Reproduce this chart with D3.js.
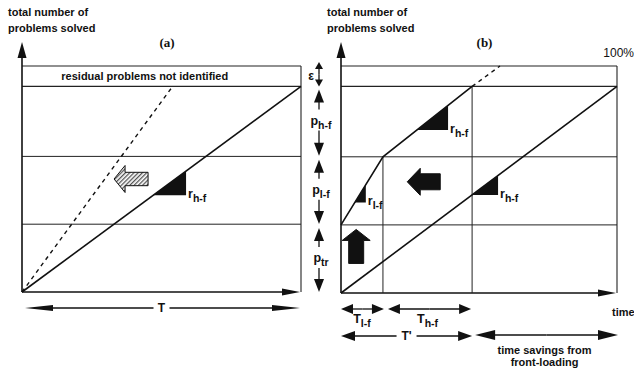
<!DOCTYPE html>
<html>
<head>
<meta charset="utf-8">
<script src="https://cdn.jsdelivr.net/npm/d3@7"></script>
<style>
  body { margin: 0; background: #fff; }
  svg { display: block; }
  text { font-family: "Liberation Sans", Arial, sans-serif; font-weight: bold; fill: #111; }
</style>
</head>
<body>
<script>

// Levels (share of all problems) where the bands end: p_tr, p_l-f, p_h-f.
const bandLevels = [0.30, 0.60, 0.91];
const fullLevel = 1.0;
const bandNames = ['tr', 'l-f', 'h-f'];

// Panel (a): conventional development.
const lineA = [[0, 0], [1, 0.91]];
const dashA = [[0, 0], [0.54, 0.91]];
const triA = [[0.47, 0.588]];

// Panel (b): front-loaded development.
const lineB = [[0, 0], [1, 0.91]];
const frontB = [[0, 0.30], [0.152, 0.60], [0.475, 0.91]];
const dashB = [[0.475, 0.91], [0.576, 1]];
const triFront = [[0.05, 0.09], [0.275, 0.388]];
const triB = [[0.475, 0.569]];
const triFrontNames = ['l-f', 'h-f'];

// Time marks in panel (b): end of T_l-f, end of T'.
const timeMarks = [0.152, 0.475];


const svg = d3.select('body').append('svg')
  .attr('width', 634)
  .attr('height', 368);

const xa = d3.scaleLinear([0, 1], [22, 301]);
const ya = d3.scaleLinear([0, 1], [292, 66]);
const xb = d3.scaleLinear([0, 1], [341, 617]);
const yb = d3.scaleLinear([0, 1], [293, 66]);


/**
 * y on a polyline at x.
 */
function yAt(pts, x) {
  for (let i = 1; i < pts.length; i++) {
    let [x0, y0] = pts[i - 1], [x1, y1] = pts[i];
    if (x <= x1 || i === pts.length - 1) return y0 + (y1 - y0) * (x - x0) / (x1 - x0);
  }
}

/**
 * Filled arrow head, tip at (x, y), pointing along (dx, dy).
 */
function head(g, x, y, dx, dy, len, half) {
  let px = -dy, py = dx;
  let bx = x - dx * len, by = y - dy * len;
  g.append('path')
    .attr('d', `M${x},${y}L${bx + px * half},${by + py * half}L${bx - px * half},${by - py * half}Z`)
    .attr('fill', '#111');
}

/**
 * Single arrow from tail to tip.
 */
function arrow(g, x1, y1, x2, y2, len, half, w) {
  let d = Math.hypot(x2 - x1, y2 - y1), dx = (x2 - x1) / d, dy = (y2 - y1) / d;
  g.append('line')
    .attr('x1', x1).attr('y1', y1)
    .attr('x2', x2 - dx * len * 0.8).attr('y2', y2 - dy * len * 0.8)
    .attr('stroke', '#111').attr('stroke-width', w || 1.3);
  head(g, x2, y2, dx, dy, len, half);
}

/**
 * Double arrow, optionally broken round a label.
 */
function dimension(g, x1, y1, x2, y2, len, half, gap) {
  if (!gap) {
    arrow(g, (x1 + x2) / 2, (y1 + y2) / 2, x1, y1, len, half);
    arrow(g, (x1 + x2) / 2, (y1 + y2) / 2, x2, y2, len, half);
    return;
  }
  let [c, g0, g1] = gap;
  if (x1 === x2) {
    arrow(g, x1, c - g0, x1, y1, len, half);
    arrow(g, x1, c + g1, x2, y2, len, half);
  } else {
    arrow(g, c - g0, y1, x1, y1, len, half);
    arrow(g, c + g1, y1, x2, y2, len, half);
  }
}

/**
 * Block arrow, tip at (x, y).
 */
function blockArrow(g, x, y, dir, total, headLen, headHalf, shaftHalf, fill) {
  let pts = [[0, 0], [headLen, -headHalf], [headLen, -shaftHalf], [total, -shaftHalf],
             [total, shaftHalf], [headLen, shaftHalf], [headLen, headHalf]];
  let rot = { left: 0, up: 90 }[dir];
  g.append('path')
    .attr('d', 'M' + pts.join('L') + 'Z')
    .attr('transform', `translate(${x},${y}) rotate(${rot})`)
    .attr('fill', fill)
    .attr('stroke', '#111')
    .attr('stroke-width', 1);
}

/**
 * Letter with a subscript.
 */
function subLabel(g, x, y, main, sub, anchor) {
  let t = g.append('text')
    .attr('x', x).attr('y', y)
    .attr('text-anchor', anchor || 'start')
    .style('font-size', '12.5px');
  t.append('tspan').text(main);
  t.append('tspan').attr('dy', 4).style('font-size', '10.5px').text(sub);
}

/**
 * Black slope triangle under a polyline.
 */
function slope(g, pts, x, y, [t0, t1], name) {
  let y0 = yAt(pts, t0), y1 = yAt(pts, t1);
  g.append('path')
    .attr('d', `M${x(t0)},${y(y0)}L${x(t1)},${y(y0)}L${x(t1)},${y(y1)}Z`)
    .attr('fill', '#111');
  subLabel(g, x(t1) + 2, y(y0) + 3, 'r', name);
}

/**
 * Axes, frame and band lines of one panel.
 */
function frame(g, x, y, title, tag) {

  let levels = bandLevels.concat([fullLevel]);
  g.selectAll('line.band')
    .data(levels)
    .join('line')
    .attr('class', 'band')
    .attr('x1', x(0)).attr('x2', x(1))
    .attr('y1', d => y(d)).attr('y2', d => y(d))
    .attr('stroke', '#222')
    .attr('stroke-width', d => d >= bandLevels[2] ? 1.2 : 1);

  // Right side of the frame.
  g.append('line')
    .attr('x1', x(1)).attr('x2', x(1))
    .attr('y1', y(fullLevel)).attr('y2', y(0))
    .attr('stroke', '#222').attr('stroke-width', 1.1);

  // Axes.
  arrow(g, x(0), y(0), x(0), 42, 16, 4.5, 1.6);
  arrow(g, x(0), y(0), x(1) - 1, y(0), 18, 3.5, 1.6);

  g.append('text').attr('x', x(0) - 14).attr('y', 16).style('font-size', '11px').text(title[0]);
  g.append('text').attr('x', x(0) - 14).attr('y', 32).style('font-size', '11px').text(title[1]);
  g.append('text')
    .attr('x', x(0.52)).attr('y', 47)
    .attr('text-anchor', 'middle')
    .style('font-family', '"Liberation Serif", serif')
    .style('font-size', '13px')
    .text(tag);
}

const path = d3.line();
const title = ['total number of', 'problems solved'];


// ---- Panel (a).

const ga = svg.append('g');
frame(ga, xa, ya, title, '(a)');

ga.append('text')
  .attr('x', xa(0.44)).attr('y', ya((fullLevel + bandLevels[2]) / 2) + 4)
  .attr('text-anchor', 'middle')
  .style('font-size', '11px')
  .text('residual problems not identified');

ga.append('path')
  .attr('d', path(dashA.map(([t, v]) => [xa(t), ya(v)])))
  .attr('fill', 'none').attr('stroke', '#111')
  .attr('stroke-width', 1.4).attr('stroke-dasharray', '4,4');

ga.append('path')
  .attr('d', path(lineA.map(([t, v]) => [xa(t), ya(v)])))
  .attr('fill', 'none').attr('stroke', '#111').attr('stroke-width', 1.6);

triA.forEach(d => slope(ga, lineA, xa, ya, d, 'h-f'));

// Hatched arrow.
const defs = svg.append('defs');
defs.append('pattern')
  .attr('id', 'hatch')
  .attr('width', 3).attr('height', 3)
  .attr('patternUnits', 'userSpaceOnUse')
  .attr('patternTransform', 'rotate(45)')
  .append('rect').attr('width', 1.3).attr('height', 3).attr('fill', '#555');

blockArrow(ga, xa(0.33), ya(0.50), 'left', 34, 11, 13.5, 6.7, 'url(#hatch)');

dimension(ga, xa(0) + 3, 308, xa(1) - 1, 308, 28, 3, [xa(0.5), 8, 8]);
ga.append('text')
  .attr('x', xa(0.5)).attr('y', 312)
  .attr('text-anchor', 'middle')
  .style('font-size', '12px')
  .text('T');


// ---- Panel (b).

const gb = svg.append('g');
frame(gb, xb, yb, title, '(b)');

gb.selectAll('line.mark')
  .data(timeMarks)
  .join('line')
  .attr('class', 'mark')
  .attr('x1', d => xb(d)).attr('x2', d => xb(d))
  .attr('y1', d => yb(yAt(frontB, d))).attr('y2', yb(0))
  .attr('stroke', '#222').attr('stroke-width', 1);

gb.append('path')
  .attr('d', path(lineB.map(([t, v]) => [xb(t), yb(v)])))
  .attr('fill', 'none').attr('stroke', '#111').attr('stroke-width', 1.6);

gb.append('path')
  .attr('d', path(frontB.map(([t, v]) => [xb(t), yb(v)])))
  .attr('fill', 'none').attr('stroke', '#111').attr('stroke-width', 1.6);

gb.append('path')
  .attr('d', path(dashB.map(([t, v]) => [xb(t), yb(v)])))
  .attr('fill', 'none').attr('stroke', '#111')
  .attr('stroke-width', 1.4).attr('stroke-dasharray', '4,4');

triFront.forEach((d, i) => slope(gb, frontB, xb, yb, d, triFrontNames[i]));
triB.forEach(d => slope(gb, lineB, xb, yb, d, 'h-f'));

blockArrow(gb, xb(0.24), yb(0.49), 'left', 33, 13, 13.5, 8, '#111');
blockArrow(gb, xb(0.055), yb(0.28), 'up', 34, 11, 14, 7.5, '#111');

gb.append('text')
  .attr('x', 634).attr('y', 57)
  .attr('text-anchor', 'end')
  .style('font-weight', 'normal')
  .style('font-size', '12px')
  .text('100%');

// Band sizes on the left.
const dimX = 319;
dimension(gb, dimX, yb(fullLevel) - 4, dimX, yb(bandLevels[2]), 7, 4);
gb.append('text')
  .attr('x', 314).attr('y', 80)
  .attr('text-anchor', 'end')
  .style('font-size', '12px')
  .text('ε');

const bands = bandLevels.map((hi, i) => [i ? bandLevels[i - 1] : 0, hi]);
bands.forEach(([lo, hi], i) => {
  let mid = (yb(lo) + yb(hi)) / 2;
  dimension(gb, dimX, yb(hi) + 3, dimX, yb(lo) - 1, 13, 5, [mid, 12, 9]);
  subLabel(gb, dimX + 2, mid + 3, 'p', bandNames[i], 'middle');
});

// Durations below the axis.
const tLf = [0, timeMarks[0]], tHf = timeMarks;
dimension(gb, xb(tLf[0]), 309, xb(tLf[1]) + 1, 309, 12, 5);
dimension(gb, xb(tHf[0]) + 5, 309, xb(tHf[1]) - 1, 309, 12, 5);
subLabel(gb, xb((tLf[0] + tLf[1]) / 2), 323, 'T', 'l-f', 'middle');
subLabel(gb, xb((tHf[0] + tHf[1]) / 2), 323, 'T', 'h-f', 'middle');

dimension(gb, xb(0), 336, xb(timeMarks[1]), 336, 14, 5, [xb(timeMarks[1] / 2), 10, 10]);
gb.append('text')
  .attr('x', xb(timeMarks[1] / 2)).attr('y', 340)
  .attr('text-anchor', 'middle')
  .style('font-size', '12px')
  .text("T'");

dimension(gb, xb(timeMarks[1]) + 3, 335, xb(1) + 1, 335, 20, 5);
gb.append('text')
  .attr('x', xb((timeMarks[1] + 1) / 2)).attr('y', 354)
  .attr('text-anchor', 'middle')
  .style('font-size', '11px')
  .text('time savings from');
gb.append('text')
  .attr('x', xb((timeMarks[1] + 1) / 2)).attr('y', 366)
  .attr('text-anchor', 'middle')
  .style('font-size', '11px')
  .text('front-loading');

gb.append('text')
  .attr('x', 612).attr('y', 316)
  .style('font-size', '11px')
  .text('time');

</script>
</body>
</html>
